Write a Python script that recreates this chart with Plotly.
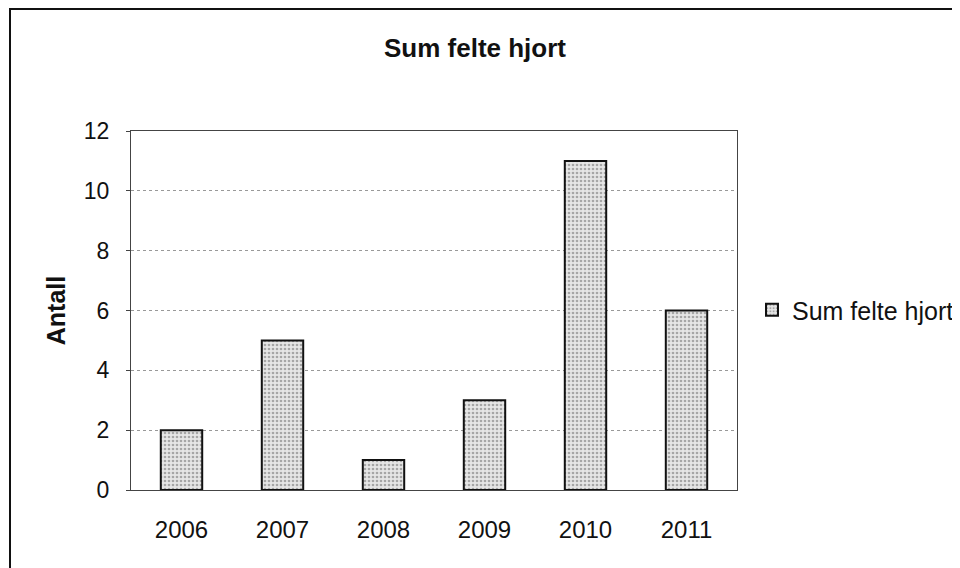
import plotly.graph_objects as go

years = ["2006", "2007", "2008", "2009", "2010", "2011"]
values = [2, 5, 1, 3, 11, 6]
series_name = "Sum felte hjort"
title_text = "Sum felte hjort"
y_title = "Antall"

# page has an 8px body offset; all positions below are screen px minus 8
OFF = 8
W, H = 960, 568
L, R, T, B = 131 - OFF, 737 - OFF, 131 - OFF, 490 - OFF

def px_x(px):
    return (px - OFF - L) / (R - L)

def px_y(py):
    return (B - (py - OFF)) / (B - T)

fig = go.Figure()
fig.add_trace(go.Bar(
    x=years, y=values, name=series_name,
    marker=dict(
        color="#e6e6e6",
        line=dict(color="#111111", width=2),
        pattern=dict(shape=".", fgcolor="#666666", bgcolor="#e6e6e6", size=4, solidity=0.35),
    ),
    width=0.41,
    showlegend=True,
))

fig.update_layout(
    width=W, height=H,
    margin=dict(l=L, r=W - R, t=T, b=H - B, pad=0, autoexpand=False),
    paper_bgcolor="white", plot_bgcolor="white",
    font=dict(family="Liberation Sans, Arial, sans-serif", color="#111111", size=24),
    title=dict(text="<b>" + title_text + "</b>", x=(475 - OFF) / W, xanchor="center",
               y=1 - (48 - OFF) / H, yanchor="middle", font=dict(size=26)),
    showlegend=True,
    legend=dict(x=px_x(752), y=px_y(310), xanchor="left", yanchor="middle",
                font=dict(size=25), bgcolor="rgba(0,0,0,0)",
                itemwidth=30),
    bargap=0.59,
)
fig.update_xaxes(
    type="category", showline=True, linecolor="#444444", linewidth=1, mirror=True,
    ticks="", tickfont=dict(size=24), ticklabelstandoff=18,
    showgrid=False,
)
fig.update_yaxes(
    range=[0, 12], dtick=2, showline=True, linecolor="#444444", linewidth=1, mirror=True,
    ticks="outside", ticklen=4, tickcolor="#444444", tickfont=dict(size=23),
    ticklabelstandoff=12,
    showgrid=True, gridcolor="#999999", griddash="dot", gridwidth=1,
    zeroline=False,
    title=dict(text="<b>" + y_title + "</b>", font=dict(size=25), standoff=11),
)

# outer chart frame: only the left and top edges fall inside the picture
x0, x1 = px_x(10), px_x(1000)
y0, y1 = px_y(600), px_y(9)
fig.add_shape(type="path", xref="paper", yref="paper",
              path=f"M {x0},{y0} L {x0},{y1} L {x1},{y1}",
              line=dict(color="#111111", width=2), layer="below")

fig.write_html("out.html", post_script="document.body.style.overflow='hidden';")
